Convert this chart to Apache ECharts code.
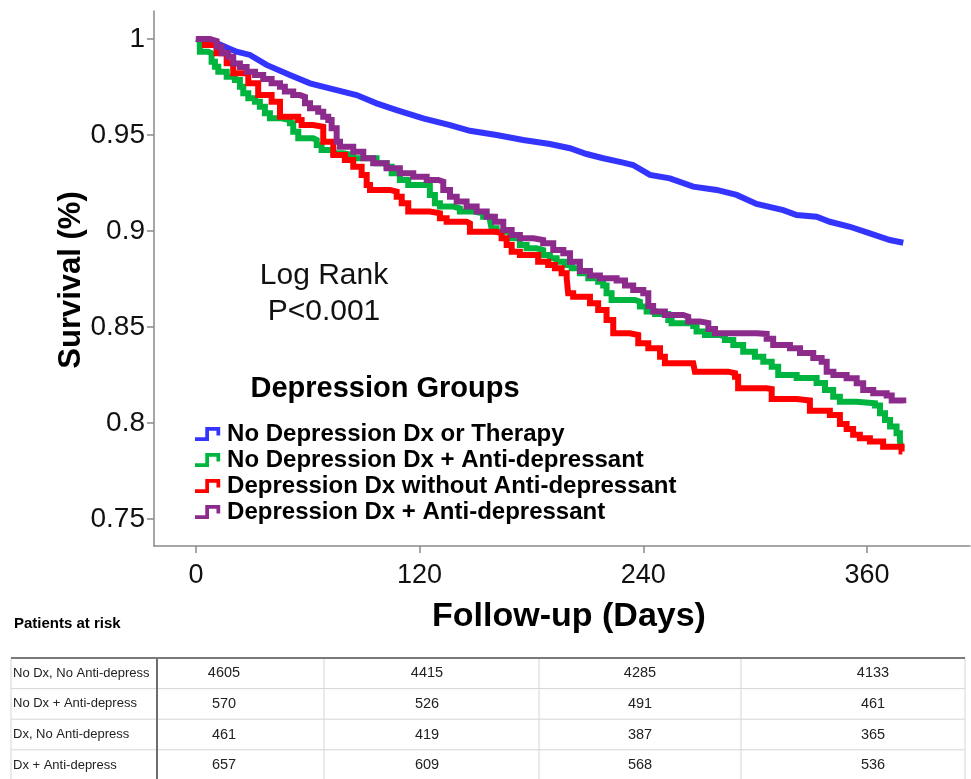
<!DOCTYPE html>
<html>
<head>
<meta charset="utf-8">
<script src="https://cdn.jsdelivr.net/npm/echarts@6/dist/echarts.min.js"></script>
<style>
html,body{margin:0;padding:0;background:#fff;}
#chart{width:971px;height:779px;}
</style>
</head>
<body>
<div id="chart"></div>
<script>
// ---------- data ----------
const seriesNames = ['No Depression Dx or Therapy', 'No Depression Dx + Anti-depressant', 'Depression Dx without Anti-depressant', 'Depression Dx + Anti-depressant'];
const seriesColors = ['#3434ff', '#00b53f', '#ff0000', '#8c2b8c'];

const blueDays = [0, 11.1, 21.8, 29.0, 37.9, 50.4, 61.2, 75.5, 86.2, 96.9, 107.7, 121.9, 136.3, 147.0, 161.3, 175.6, 189.9, 200.6, 209.6, 218.5, 229.2, 234.5, 243.6, 254.3, 266.8, 279.4, 290.1, 300.8, 315.1, 322.3, 333.0, 340.1, 350.9, 361.6, 372.3, 379.5];
const blueSurv = [1.0, 0.9978, 0.9934, 0.9917, 0.9865, 0.9813, 0.9769, 0.9734, 0.9708, 0.9665, 0.9630, 0.9587, 0.9552, 0.9522, 0.9500, 0.9474, 0.9453, 0.9431, 0.9401, 0.9379, 0.9356, 0.9344, 0.9292, 0.9274, 0.9231, 0.9214, 0.9188, 0.9141, 0.9109, 0.9083, 0.9074, 0.9048, 0.9022, 0.8988, 0.8953, 0.8939];

const greenDays = [0, 2.1, 6.6, 8.4, 10.2, 12.0, 16.5, 20.9, 23.6, 25.4, 28.1, 31.7, 34.3, 37.0, 39.7, 46.0, 50.4, 52.2, 54.9, 62.9, 64.8, 67.4, 73.7, 79.0, 84.4, 96.9, 102.3, 105.0, 109.4, 113.9, 125.5, 128.2, 130.9, 138.0, 141.6, 148.8, 154.1, 157.7, 158.6, 161.3, 168.5, 173.8, 177.4, 182.8, 186.3, 189.9, 193.5, 198.0, 201.6, 206.0, 210.5, 215.8, 218.5, 220.3, 223.0, 235.5, 238.2, 241.8, 246.3, 253.4, 255.2, 266.8, 268.6, 273.1, 281.1, 283.8, 288.3, 293.6, 299.9, 304.4, 308.9, 312.4, 322.3, 333.0, 337.5, 341.9, 345.5, 354.5, 364.3, 367.0, 369.7, 372.4, 375.9, 377.7, 378.6];
const greenSurv = [1.0, 0.9934, 0.9926, 0.9882, 0.9856, 0.9830, 0.9804, 0.9786, 0.9752, 0.9717, 0.9691, 0.9673, 0.9647, 0.9613, 0.9587, 0.9578, 0.9561, 0.9517, 0.9483, 0.9474, 0.9448, 0.9422, 0.9405, 0.9396, 0.9379, 0.9353, 0.9335, 0.9301, 0.9266, 0.9240, 0.9188, 0.9144, 0.9127, 0.9118, 0.9101, 0.9092, 0.9074, 0.9057, 0.9014, 0.8996, 0.8962, 0.8927, 0.8910, 0.8901, 0.8875, 0.8858, 0.8840, 0.8823, 0.8806, 0.8780, 0.8754, 0.8736, 0.8716, 0.8676, 0.8641, 0.8632, 0.8606, 0.8580, 0.8568, 0.8536, 0.8519, 0.8505, 0.8476, 0.8458, 0.8449, 0.8432, 0.8406, 0.8371, 0.8345, 0.8319, 0.8293, 0.8250, 0.8234, 0.8208, 0.8172, 0.8137, 0.8111, 0.8103, 0.8091, 0.8051, 0.8016, 0.7981, 0.7946, 0.7903, 0.7868];

const redDays = [0, 4.8, 11.1, 16.5, 20.0, 28.1, 33.4, 40.6, 45.1, 54.9, 56.7, 62.9, 68.3, 73.7, 79.9, 84.4, 88.9, 91.6, 93.4, 104.1, 107.7, 110.4, 113.9, 125.5, 130.9, 134.5, 145.2, 147.0, 161.3, 164.0, 166.7, 169.4, 173.8, 183.6, 189.0, 192.6, 196.2, 198.9, 199.7, 202.4, 211.4, 215.8, 220.3, 223.9, 232.8, 237.3, 242.7, 249.0, 251.6, 266.8, 267.7, 285.6, 289.2, 290.9, 306.2, 308.9, 322.3, 329.4, 340.1, 345.5, 349.1, 352.6, 356.2, 361.6, 368.7, 378.6, 379.0];
const redSurv = [1.0, 0.9969, 0.9926, 0.9874, 0.9822, 0.9770, 0.9708, 0.9673, 0.9595, 0.9578, 0.9552, 0.9543, 0.9465, 0.9396, 0.9370, 0.9335, 0.9292, 0.9240, 0.9214, 0.9205, 0.9179, 0.9145, 0.9101, 0.9092, 0.9066, 0.9048, 0.9040, 0.8996, 0.8988, 0.8962, 0.8927, 0.8892, 0.8875, 0.8840, 0.8823, 0.8806, 0.8780, 0.8754, 0.8676, 0.8658, 0.8623, 0.8589, 0.8536, 0.8467, 0.8458, 0.8415, 0.8389, 0.8345, 0.8311, 0.8302, 0.8267, 0.8259, 0.8241, 0.8181, 0.8177, 0.8125, 0.8117, 0.8063, 0.8042, 0.7995, 0.7969, 0.7938, 0.7920, 0.7903, 0.7876, 0.7851, 0.7851];

const purpleDays = [0, 7.5, 11.1, 13.8, 17.3, 20.0, 23.6, 27.2, 31.7, 36.1, 40.6, 45.1, 47.7, 52.2, 55.8, 58.5, 61.2, 65.6, 68.3, 71.0, 72.8, 75.5, 77.3, 84.4, 89.8, 95.1, 102.3, 109.4, 116.6, 123.8, 130.0, 132.7, 136.3, 139.9, 145.2, 150.6, 156.0, 160.4, 164.9, 169.4, 173.8, 181.0, 186.3, 191.7, 197.1, 200.7, 206.0, 211.4, 216.7, 225.7, 230.2, 234.6, 240.0, 242.7, 245.3, 251.6, 261.4, 264.1, 270.4, 274.9, 278.5, 300.8, 306.2, 309.7, 318.7, 324.1, 331.2, 335.7, 338.4, 342.0, 349.1, 354.5, 358.0, 363.4, 370.6, 373.3, 379.5];
const purpleSurv = [1.0, 0.9990, 0.9960, 0.9926, 0.9908, 0.9873, 0.9854, 0.9830, 0.9813, 0.9792, 0.9769, 0.9752, 0.9726, 0.9708, 0.9699, 0.9665, 0.9639, 0.9621, 0.9595, 0.9578, 0.9535, 0.9465, 0.9439, 0.9413, 0.9379, 0.9353, 0.9327, 0.9301, 0.9283, 0.9266, 0.9257, 0.9214, 0.9179, 0.9153, 0.9127, 0.9101, 0.9074, 0.9048, 0.9005, 0.8979, 0.8962, 0.8953, 0.8936, 0.8901, 0.8884, 0.8840, 0.8792, 0.8768, 0.8754, 0.8742, 0.8716, 0.8693, 0.8676, 0.8609, 0.8580, 0.8563, 0.8554, 0.8528, 0.8521, 0.8490, 0.8467, 0.8464, 0.8438, 0.8406, 0.8389, 0.8365, 0.8339, 0.8319, 0.8267, 0.8250, 0.8233, 0.8207, 0.8172, 0.8155, 0.8143, 0.8117, 0.8103];

const xTicks = [0, 120, 240, 360];
const yTicks = [0.75, 0.8, 0.85, 0.9, 0.95, 1];

const riskRowLabels = ['No Dx, No Anti-depress', 'No Dx + Anti-depress', 'Dx, No Anti-depress', 'Dx + Anti-depress'];
const riskNoDxNoAD = [4605, 4415, 4285, 4133];
const riskNoDxAD = [570, 526, 491, 461];
const riskDxNoAD = [461, 419, 387, 365];
const riskDxAD = [657, 609, 568, 536];

// ---------- build ----------
const FONT = '"Liberation Sans", Arial, Helvetica, sans-serif';
const zip = (a, b) => a.map((v, i) => [v, b[i]]);
const curves = [
  { data: zip(blueDays, blueSurv), step: false },
  { data: zip(greenDays, greenSurv), step: 'end' },
  { data: zip(redDays, redSurv), step: 'end' },
  { data: zip(purpleDays, purpleSurv), step: 'end' }
];

const series = curves.map((c, i) => ({
  name: seriesNames[i],
  type: 'line',
  step: c.step,
  data: c.data,
  showSymbol: false,
  symbol: 'none',
  animation: false,
  color: seriesColors[i],
  lineStyle: { color: seriesColors[i], width: 6, cap: 'butt', join: 'miter' },
  z: 2 + i
}));

// table layout (layout constants, not data)
const tableTop = 658, rowH = 30.6, tableLeft = 11, tableRight = 965;
const colEdges = [11, 157, 324, 539, 741, 965];
const colCenters = [224, 427, 640, 873];
const riskRows = [riskNoDxNoAD, riskNoDxAD, riskDxNoAD, riskDxAD];

const graphics = [];
graphics.push({ type: 'text', x: 324, y: 276, style: { text: 'Log Rank', font: '30px ' + FONT, fill: '#111', align: 'center', verticalAlign: 'middle' } });
graphics.push({ type: 'text', x: 324, y: 312, style: { text: 'P<0.001', font: '30px ' + FONT, fill: '#111', align: 'center', verticalAlign: 'middle' } });
graphics.push({ type: 'text', x: 385, y: 389, style: { text: 'Depression Groups', font: 'bold 29px ' + FONT, fill: '#000', align: 'center', verticalAlign: 'middle' } });
graphics.push({ type: 'text', x: 569, y: 617, style: { text: 'Follow-up (Days)', font: 'bold 34px ' + FONT, fill: '#000', align: 'center', verticalAlign: 'middle' } });
graphics.push({ type: 'text', x: 71, y: 280, rotation: Math.PI / 2, style: { text: 'Survival (%)', font: 'bold 31px ' + FONT, fill: '#000', align: 'center', verticalAlign: 'middle' } });
graphics.push({ type: 'text', x: 14, y: 624, style: { text: 'Patients at risk', font: 'bold 15px ' + FONT, fill: '#000', align: 'left', verticalAlign: 'middle' } });

for (let r = 1; r <= 4; r++) {
  const y = tableTop + r * rowH;
  graphics.push({ type: 'line', shape: { x1: tableLeft, y1: y, x2: tableRight, y2: y }, style: { stroke: '#d6d6d6', lineWidth: 1 } });
}
colEdges.forEach((x, k) => {
  const dark = k === 1;
  graphics.push({ type: 'line', shape: { x1: x, y1: tableTop, x2: x, y2: 779 }, style: { stroke: dark ? '#6e6e6e' : '#d6d6d6', lineWidth: dark ? 2 : 1 }, z: dark ? 3 : 1 });
});
graphics.push({ type: 'line', shape: { x1: tableLeft, y1: tableTop, x2: tableRight, y2: tableTop }, style: { stroke: '#7a7a7a', lineWidth: 2 }, z: 4 });

riskRowLabels.forEach((lab, r) => {
  const cy = tableTop + (r + 0.5) * rowH;
  graphics.push({ type: 'text', x: 13, y: cy, style: { text: lab, font: '13px ' + FONT, fill: '#222', align: 'left', verticalAlign: 'middle' } });
  riskRows[r].forEach((v, c) => {
    graphics.push({ type: 'text', x: colCenters[c], y: cy, style: { text: String(v), font: '14.5px ' + FONT, fill: '#222', align: 'center', verticalAlign: 'middle' } });
  });
});

const iconPath = 'path://M0,11 L11,11 L11,0 L27,0 L27,9 L23,9 L23,4 L15,4 L15,15 L0,15 Z';

const option = {
  animation: false,
  backgroundColor: '#fff',
  grid: { left: 154, right: 1, top: 11, bottom: 233, containLabel: false },
  xAxis: {
    type: 'value',
    min: -22.5,
    max: 415.3,
    axisLine: { show: true, onZero: false, lineStyle: { color: '#8a8a8a', width: 1.5 } },
    axisTick: { show: true, customValues: xTicks, length: 7, lineStyle: { color: '#8a8a8a', width: 1.5 } },
    axisLabel: { customValues: xTicks, fontSize: 27, fontFamily: FONT, color: '#111', margin: 16 },
    splitLine: { show: false }
  },
  yAxis: {
    type: 'value',
    min: 0.7359,
    max: 1.0146,
    axisLine: { show: true, onZero: false, lineStyle: { color: '#8a8a8a', width: 1.5 } },
    axisTick: { show: true, customValues: yTicks, length: 7, lineStyle: { color: '#8a8a8a', width: 1.5 } },
    axisLabel: { customValues: yTicks, fontSize: 28, fontFamily: FONT, color: '#111', margin: 9 },
    splitLine: { show: false }
  },
  legend: {
    show: true,
    orient: 'vertical',
    left: 190,
    top: 416,
    itemWidth: 29,
    itemHeight: 14,
    itemGap: 0,
    icon: iconPath,
    itemStyle: { borderWidth: 0 },
    textStyle: { fontSize: 24, fontWeight: 'bold', fontFamily: FONT, color: '#000', lineHeight: 26 },
    data: seriesNames.map(n => ({ name: n, icon: iconPath }))
  },
  graphic: graphics,
  series: series
};

const chart = echarts.init(document.getElementById('chart'), null, { renderer: 'canvas' });
chart.setOption(option);
</script>
</body>
</html>
